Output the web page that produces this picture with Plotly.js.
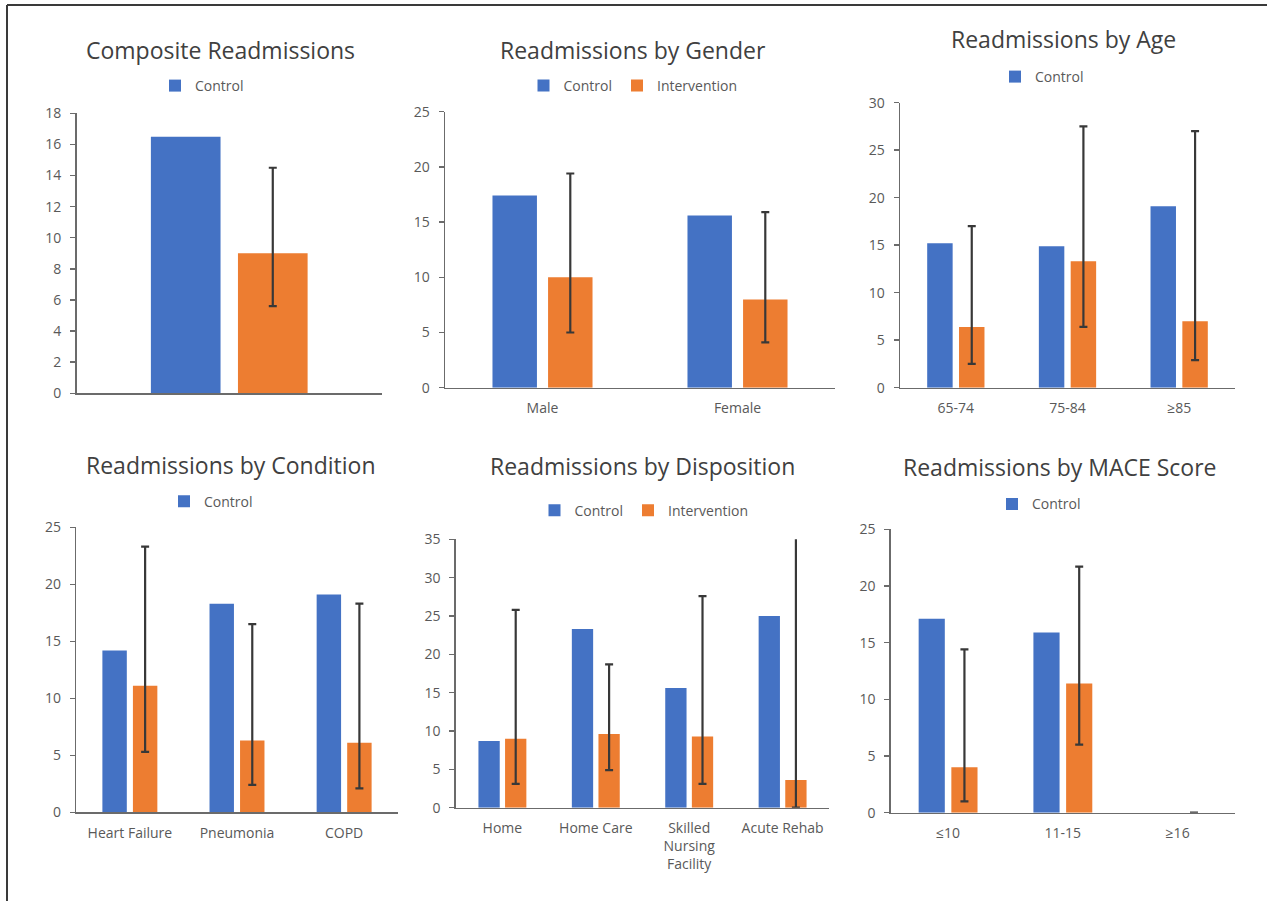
<!DOCTYPE html>
<html>
<head>
<meta charset="utf-8">
<script src="https://cdn.plot.ly/plotly-3.0.1.min.js"></script>
<style>
  html, body { margin: 0; padding: 0; background: #ffffff; }
  #chart { width: 1267px; height: 901px; }
</style>
</head>
<body>
<div id="chart"></div>
<script>
// ---------------- DATA ----------------
const seriesNames = ['Control', 'Intervention'];

const panelTitles = [
  'Composite Readmissions',
  'Readmissions by Gender',
  'Readmissions by Age',
  'Readmissions by Condition',
  'Readmissions by Disposition',
  'Readmissions by MACE Score'
];

// Composite
const compCategories = ['All patients'];
const compControl = [16.5];
const compIntervention = [9.0];
const compIntLow = [5.6];
const compIntHigh = [14.5];

// Gender
const genderCategories = ['Male', 'Female'];
const genderControl = [17.4, 15.6];
const genderIntervention = [10.0, 8.0];
const genderIntLow = [5.0, 4.1];
const genderIntHigh = [19.4, 15.9];

// Age
const ageCategories = ['65-74', '75-84', '≥85'];
const ageControl = [15.2, 14.9, 19.1];
const ageIntervention = [6.4, 13.3, 7.0];
const ageIntLow = [2.5, 6.4, 2.9];
const ageIntHigh = [17.0, 27.5, 27.0];

// Condition
const condCategories = ['Heart Failure', 'Pneumonia', 'COPD'];
const condControl = [14.2, 18.3, 19.1];
const condIntervention = [11.1, 6.3, 6.1];
const condIntLow = [5.3, 2.4, 2.1];
const condIntHigh = [23.3, 16.5, 18.3];

// Disposition
const dispCategories = ['Home', 'Home Care', 'Skilled<br>Nursing<br>Facility', 'Acute Rehab'];
const dispControl = [8.7, 23.3, 15.6, 25.0];
const dispIntervention = [9.0, 9.6, 9.3, 3.6];
const dispIntLow = [3.1, 4.9, 3.1, 0];
const dispIntHigh = [25.8, 18.7, 27.6, 40];

// MACE score
const maceCategories = ['≤10', '11-15', '≥16'];
const maceControl = [17.1, 15.9, 0];
const maceIntervention = [4.0, 11.4, 0];
const maceIntLow = [1.0, 6.0, 0];
const maceIntHigh = [14.4, 21.7, 0];

// y-axis tick labels per panel
const yTickVals = [
  [0, 2, 4, 6, 8, 10, 12, 14, 16, 18],
  [0, 5, 10, 15, 20, 25],
  [0, 5, 10, 15, 20, 25, 30],
  [0, 5, 10, 15, 20, 25],
  [0, 5, 10, 15, 20, 25, 30, 35],
  [0, 5, 10, 15, 20, 25]
];

// ---------------- LAYOUT / STYLE ----------------
const W = 1267, H = 901;
const FONT = '"Open Sans", "Noto Sans", sans-serif';
const BLUE = '#4472C4', ORANGE = '#ED7D31';
const AXIS_COLOR = '#6b6b6b', TICK_TEXT = '#595959', TITLE_TEXT = '#404040';

const panels = [
  {cats: compCategories, ctl: compControl, itv: compIntervention, lo: compIntLow, hi: compIntHigh,
   box: [76.5, 382, 113.3, 393.3], title: [221, 50], legend: [202, 86], showInt: false, showX: false},
  {cats: genderCategories, ctl: genderControl, itv: genderIntervention, lo: genderIntLow, hi: genderIntHigh,
   box: [445, 835, 111.7, 387.7], title: [633, 50], legend: [633, 86], showInt: true, showX: true},
  {cats: ageCategories, ctl: ageControl, itv: ageIntervention, lo: ageIntLow, hi: ageIntHigh,
   box: [900, 1235, 102.7, 387.7], title: [1063, 39], legend: [1042, 77], showInt: false, showX: true},
  {cats: condCategories, ctl: condControl, itv: condIntervention, lo: condIntLow, hi: condIntHigh,
   box: [76.3, 397.7, 527.3, 812.3], title: [231, 465], legend: [211, 501.7], showInt: false, showX: true},
  {cats: dispCategories, ctl: dispControl, itv: dispIntervention, lo: dispIntLow, hi: dispIntHigh,
   box: [455.7, 829.3, 539.3, 807.7], title: [642, 466], legend: [644, 510.7], showInt: true, showX: true},
  {cats: maceCategories, ctl: maceControl, itv: maceIntervention, lo: maceIntLow, hi: maceIntHigh,
   box: [890.7, 1235, 529.3, 812.7], title: [1060, 467], legend: [1039, 504.3], showInt: false, showX: true}
];

const px = x => x / W;
const py = y => 1 - y / H;

const data = [];
const layout = {
  width: W, height: H,
  margin: {l: 0, r: 0, t: 0, b: 0},
  paper_bgcolor: '#ffffff',
  plot_bgcolor: 'rgba(0,0,0,0)',
  font: {family: FONT, size: 14, color: TICK_TEXT},
  barmode: 'group',
  bargap: 0.43,
  bargroupgap: 0.2,
  annotations: [],
  shapes: [
    {type: 'line', xref: 'paper', yref: 'paper', x0: px(7), x1: 1, y0: py(5), y1: py(5),
     line: {color: '#3a3a3a', width: 2}},
    {type: 'line', xref: 'paper', yref: 'paper', x0: px(7), x1: px(7), y0: py(5), y1: 0,
     line: {color: '#3a3a3a', width: 2}}
  ]
};

panels.forEach((p, i) => {
  const n = i + 1;
  const xa = 'x' + (n === 1 ? '' : n), ya = 'y' + (n === 1 ? '' : n);
  const xKey = 'xaxis' + (n === 1 ? '' : n), yKey = 'yaxis' + (n === 1 ? '' : n);
  const lgKey = 'legend' + (n === 1 ? '' : n);
  const ymax = yTickVals[i][yTickVals[i].length - 1];

  data.push({
    type: 'bar', name: seriesNames[0], x: p.cats, y: p.ctl,
    xaxis: xa, yaxis: ya, legend: lgKey,
    marker: {color: BLUE}, hoverinfo: 'x+y'
  });
  data.push({
    type: 'bar', name: seriesNames[1], x: p.cats, y: p.itv,
    xaxis: xa, yaxis: ya, legend: lgKey, showlegend: p.showInt,
    marker: {color: ORANGE}, hoverinfo: 'x+y',
    error_y: {
      type: 'data', symmetric: false, visible: true,
      array: p.hi.map((h, k) => h - p.itv[k]),
      arrayminus: p.itv.map((v, k) => v - p.lo[k]),
      color: '#383838', thickness: 2.2, width: 4
    }
  });

  layout[xKey] = {
    domain: [px(p.box[0]), px(p.box[1])],
    anchor: ya,
    type: 'category',
    showline: true, linecolor: AXIS_COLOR, linewidth: 1.5,
    ticks: '', showticklabels: p.showX,
    showgrid: false, zeroline: false,
    tickfont: {family: FONT, size: 14, color: TICK_TEXT},
    ticklabelstandoff: 7,
    fixedrange: true
  };
  layout[yKey] = {
    domain: [py(p.box[3]), py(p.box[2])],
    anchor: xa,
    range: [0, ymax],
    tickmode: 'array', tickvals: yTickVals[i], ticktext: yTickVals[i].map(String),
    showline: true, linecolor: AXIS_COLOR, linewidth: 1.5,
    ticks: 'outside', ticklen: 5, tickwidth: 1.5, tickcolor: AXIS_COLOR,
    showgrid: false, zeroline: false,
    tickfont: {family: FONT, size: 14, color: TICK_TEXT},
    ticklabelstandoff: 6,
    fixedrange: true
  };
  layout[lgKey] = {
    orientation: 'h',
    x: px(p.legend[0]), y: py(p.legend[1]),
    xanchor: 'center', yanchor: 'middle',
    xref: 'paper', yref: 'paper',
    font: {family: FONT, size: 14, color: TICK_TEXT},
    bgcolor: 'rgba(0,0,0,0)',
    itemwidth: 30,
    itemclick: false, itemdoubleclick: false
  };
  layout.annotations.push({
    text: panelTitles[i],
    xref: 'paper', yref: 'paper',
    x: px(p.title[0]), y: py(p.title[1]),
    xanchor: 'center', yanchor: 'middle',
    showarrow: false,
    font: {family: FONT, size: 23, color: TITLE_TEXT}
  });
});

Plotly.newPlot('chart', data, layout, {displayModeBar: false, staticPlot: true});
</script>
</body>
</html>
